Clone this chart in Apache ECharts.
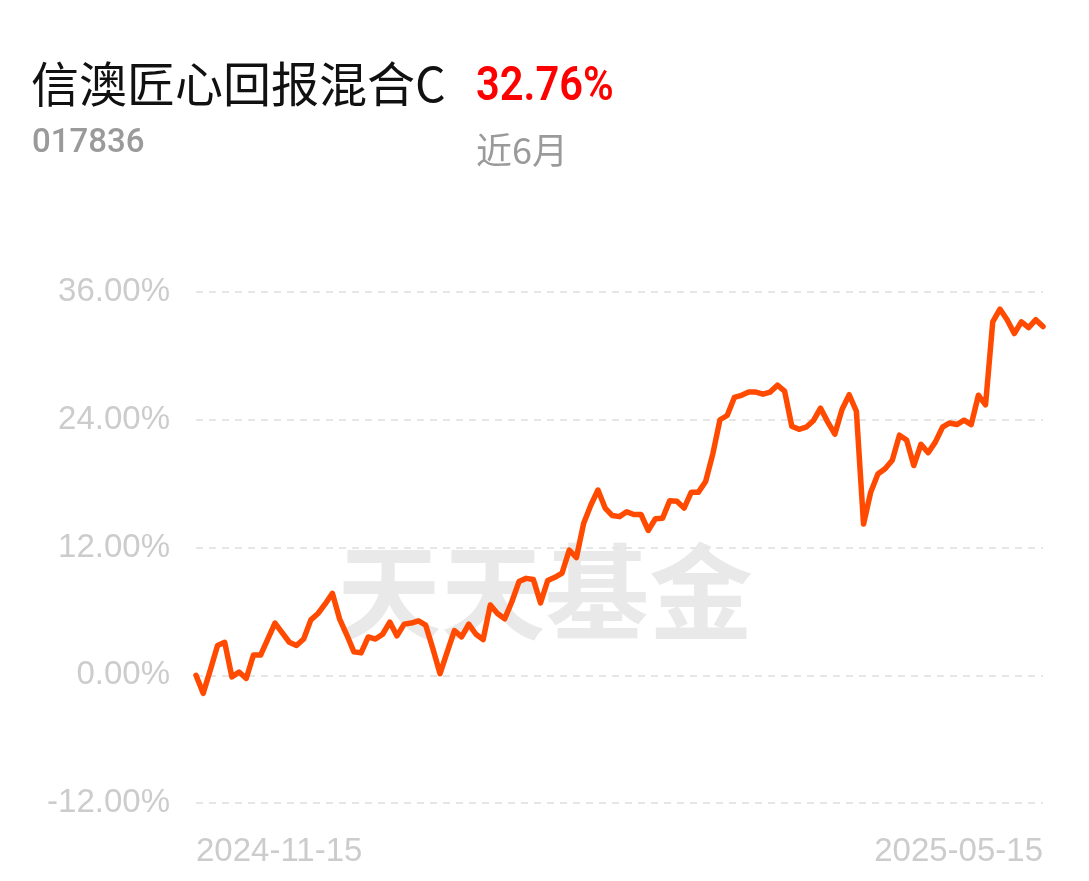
<!DOCTYPE html>
<html>
<head>
<meta charset="utf-8">
<script src="https://cdn.jsdelivr.net/npm/echarts@6/dist/echarts.min.js"></script>
<style>
html,body{margin:0;padding:0;background:#fff;}
#chart{width:1089px;height:881px;}
</style>
</head>
<body>
<div id="chart"></div>
<script>
const fundName = '信澳匠心回报混合C';
const fundCode = '017836';
const periodReturn = '32.76%';
const periodLabel = '近6月';
const watermark = '天天基金';
const xTickLabels = ['2024-11-15', '2025-05-15'];
const yTicks = [-12, 0, 12, 24, 36];
const returns = [
  0, -1.7, 0.5, 2.8, 3.1, -0.15, 0.3, -0.3, 1.9, 1.9,
  3.4, 4.9, 4.0, 3.1, 2.8, 3.4, 5.2, 5.8, 6.7, 7.7,
  5.3, 3.8, 2.2, 2.1, 3.6, 3.4, 3.85, 5.0, 3.7, 4.8,
  4.9, 5.1, 4.7, 2.5, 0.15, 2.2, 4.2, 3.6, 4.8, 3.85,
  3.35, 6.6, 5.8, 5.3, 6.9, 8.8, 9.1, 9.0, 6.8, 8.9,
  9.2, 9.6, 11.75, 11.05, 14.25, 15.97, 17.4, 15.7, 15.0, 14.9,
  15.35, 15.1, 15.1, 13.6, 14.7, 14.75, 16.4, 16.35, 15.7, 17.2,
  17.2, 18.2, 20.8, 24.0, 24.4, 26.1, 26.3, 26.6, 26.6, 26.4,
  26.6, 27.25, 26.7, 23.4, 23.1, 23.3, 23.9, 25.1, 23.8, 22.65,
  24.97, 26.35, 24.8, 14.2, 17.2, 18.9, 19.4, 20.2, 22.55, 22.1,
  19.7, 21.7, 20.9, 21.9, 23.3, 23.7, 23.55, 23.96, 23.55, 26.3,
  25.4, 33.2, 34.4, 33.4, 32.1, 33.2, 32.65, 33.4, 32.76
];
const categories = returns.map((_, i) => i);
const lastIdx = returns.length - 1;

const chart = echarts.init(document.getElementById('chart'), null, {renderer: 'canvas'});
chart.setOption({
  animation: false,
  backgroundColor: '#ffffff',
  grid: {left: 196, right: 46, top: 292, bottom: 78, containLabel: false},
  graphic: [
    {type: 'text', x: 545, y: 592, z: -10, silent: true,
     style: {text: watermark, font: 'bold 104px "Noto Sans CJK SC"', fill: '#e9e9e9', align: 'center', verticalAlign: 'middle'}},
    {type: 'text', x: 31, y: 84,
     style: {text: fundName, font: '48px "Noto Sans CJK SC"', fill: '#111111', verticalAlign: 'middle'}},
    {type: 'text', x: 476, y: 88, scaleX: 0.85,
     style: {text: periodReturn, font: '600 49px Roboto', fill: '#ff0000', verticalAlign: 'middle'}},
    {type: 'text', x: 32, y: 144,
     style: {text: fundCode, font: '500 33px Roboto', fill: '#9a9a9a', verticalAlign: 'middle'}},
    {type: 'text', x: 476, y: 150,
     style: {text: periodLabel, font: '36px "Noto Sans CJK SC"', fill: '#9a9a9a', verticalAlign: 'middle'}}
  ],
  xAxis: {
    type: 'category',
    data: categories,
    boundaryGap: false,
    axisLine: {show: false},
    axisTick: {show: false},
    splitLine: {show: false},
    axisLabel: {
      interval: (i) => i === 0 || i === lastIdx,
      formatter: (v) => (Number(v) === 0 ? xTickLabels[0] : xTickLabels[1]),
      color: '#cccccc',
      fontSize: 33,
      fontFamily: '"Liberation Sans", Arial, sans-serif',
      margin: 32,
      alignMinLabel: 'left',
      alignMaxLabel: 'right',
      showMinLabel: true,
      showMaxLabel: true
    }
  },
  yAxis: {
    type: 'value',
    min: yTicks[0],
    max: yTicks[yTicks.length - 1],
    interval: 12,
    axisLine: {show: false},
    axisTick: {show: false},
    axisLabel: {
      formatter: (v) => v.toFixed(2) + '%',
      color: '#cccccc',
      fontSize: 33,
      fontFamily: '"Liberation Sans", Arial, sans-serif',
      margin: 26
    },
    splitLine: {show: true, lineStyle: {color: '#e6e6e6', width: 2, type: [7, 6]}}
  },
  series: [{
    type: 'line',
    data: returns,
    showSymbol: false,
    smooth: false,
    lineStyle: {color: '#ff4a00', width: 5.5, join: 'round', cap: 'round'},
    z: 5
  }]
});
</script>
</body>
</html>
